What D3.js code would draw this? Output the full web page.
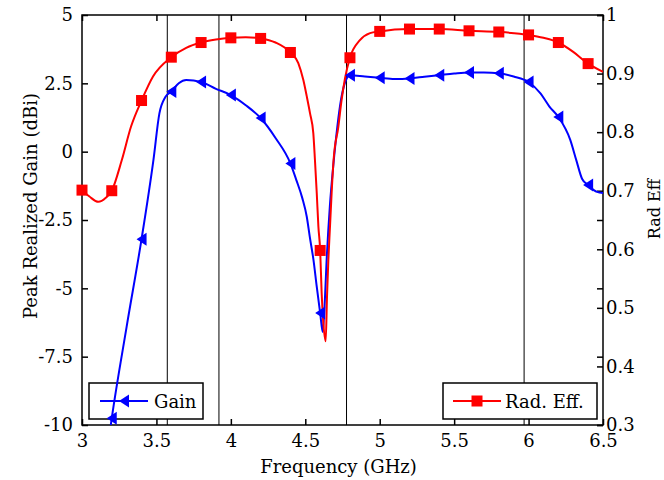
<!DOCTYPE html>
<html>
<head>
<meta charset="utf-8">
<script src="https://cdn.jsdelivr.net/npm/d3@7"></script>
<style>
  html, body { margin: 0; padding: 0; background: #fff; }
  svg text { font-family: "DejaVu Serif", "Liberation Serif", "Times New Roman", serif !important; fill: #000; }
</style>
</head>
<body>
<svg id="chart" width="664" height="480"></svg>
<script>
// ---------------- DATA ----------------
const xTicks = [3, 3.5, 4, 4.5, 5, 5.5, 6, 6.5];
const xTickLabels = ["3", "3.5", "4", "4.5", "5", "5.5", "6", "6.5"];
const gainTicks = [-10, -7.5, -5, -2.5, 0, 2.5, 5];
const gainTickLabels = ["-10", "-7.5", "-5", "-2.5", "0", "2.5", "5"];
const effTicks = [0.3, 0.4, 0.5, 0.6, 0.7, 0.8, 0.9, 1];
const effTickLabels = ["0.3", "0.4", "0.5", "0.6", "0.7", "0.8", "0.9", "1"];

// reference vertical lines (GHz)
const refLines = [3.573, 3.92, 4.777, 5.97];

// Peak realized gain (dBi)
const gainFreq = [3.1, 3.2, 3.3, 3.4, 3.48, 3.52, 3.56, 3.6, 3.65, 3.7, 3.8, 3.9, 4.0, 4.1, 4.2, 4.3, 4.4,
  4.44, 4.48, 4.51, 4.53, 4.555, 4.577, 4.6, 4.617, 4.628, 4.645, 4.665, 4.69, 4.715, 4.74, 4.765, 4.8,
  4.9, 5.0, 5.1, 5.2, 5.3, 5.4, 5.5, 5.6, 5.7, 5.8, 5.9, 6.0, 6.08, 6.14, 6.2, 6.28, 6.32, 6.36, 6.4, 6.46, 6.5];
const gainVals = [-14, -9.75, -6.4, -3.2, -0.3, 1.4, 2.0, 2.2, 2.5, 2.62, 2.55, 2.3, 2.07, 1.7, 1.23, 0.5, -0.43,
  -1.04, -1.7, -2.38, -3.11, -3.96, -4.94, -5.9, -6.6, -5.8, -3.8, -2.0, -0.4, 0.9, 1.9, 2.5, 2.8,
  2.75, 2.7, 2.66, 2.68, 2.74, 2.8, 2.86, 2.9, 2.9, 2.87, 2.75, 2.55, 2.13, 1.65, 1.27, 0.43, -0.3, -1.0, -1.22, -1.47, -1.51];
const gainMarkerFreq = [3.2, 3.4, 3.6, 3.8, 4.0, 4.2, 4.4, 4.6, 4.8, 5.0, 5.2, 5.4, 5.6, 5.8, 6.0, 6.2, 6.4];

// Radiation efficiency
const effFreq = [3.0, 3.05, 3.11, 3.16, 3.2, 3.267, 3.33, 3.4, 3.477, 3.6, 3.7, 3.8, 3.9, 4.0, 4.1, 4.2, 4.3, 4.4,
  4.453, 4.487, 4.51, 4.532, 4.554, 4.565, 4.577, 4.588, 4.6, 4.61, 4.62, 4.637, 4.646, 4.655, 4.666, 4.677, 4.69,
  4.722, 4.744, 4.767, 4.8, 4.867, 4.935, 5.0, 5.2, 5.4, 5.6, 5.8, 6.0, 6.1, 6.2, 6.3, 6.4, 6.5];
const effVals = [0.701, 0.69, 0.681, 0.688, 0.70, 0.752, 0.81, 0.854, 0.895, 0.928, 0.944, 0.953, 0.958, 0.961, 0.962, 0.960, 0.953, 0.936,
  0.918, 0.889, 0.861, 0.832, 0.798, 0.752, 0.696, 0.639, 0.598, 0.525, 0.479, 0.443, 0.52, 0.582, 0.639, 0.696, 0.752,
  0.809, 0.855, 0.892, 0.927, 0.957, 0.969, 0.972, 0.976, 0.976, 0.973, 0.971, 0.966, 0.961, 0.953, 0.937, 0.917, 0.903];
const effMarkerFreq = [3.0, 3.2, 3.4, 3.6, 3.8, 4.0, 4.2, 4.4, 4.6, 4.8, 5.0, 5.2, 5.4, 5.6, 5.8, 6.0, 6.2, 6.4];

const legendGain = "Gain";
const legendEff = "Rad. Eff.";
const xLabel = "Frequency (GHz)";
const yLeftLabel = "Peak Realized Gain (dBi)";
const yRightLabel = "Rad Eff";

// ---------------- LAYOUT ----------------
const L = 82, R = 603, T = 15, B = 425;
const FONT = 18;
const FAMILY = "'DejaVu Serif', 'Liberation Serif', 'Times New Roman', serif";
const BLUE = "#0000ff", RED = "#ff0000";

const svg = d3.select("#chart").style("font-family", FAMILY);
const x = d3.scaleLinear().domain([3, 6.5]).range([L, R]);
const yL = d3.scaleLinear().domain([-10, 5]).range([B, T]);
const yR = d3.scaleLinear().domain([0.3, 1]).range([B, T]);

svg.append("defs").append("clipPath").attr("id", "plotclip")
  .append("rect").attr("x", L).attr("y", T).attr("width", R - L).attr("height", B - T);

// vertical reference lines
svg.append("g").selectAll("line").data(refLines).join("line")
  .attr("x1", d => x(d)).attr("x2", d => x(d))
  .attr("y1", T).attr("y2", B)
  .attr("stroke", "#000").attr("stroke-width", 1);

// axes
function styleAxis(g) {
  g.attr("font-family", null).attr("font-size", null);
  g.select(".domain").remove();
  g.selectAll(".tick line").attr("stroke", "#000").attr("stroke-width", 1.5);
  g.selectAll(".tick text").style("font-size", FONT + "px").style("font-family", FAMILY);
}
const fmt = (ticks, labels) => d => labels[ticks.indexOf(d)];

svg.append("g").attr("transform", `translate(0,${B})`)
  .call(d3.axisBottom(x).tickValues(xTicks).tickFormat(fmt(xTicks, xTickLabels)).tickSizeInner(-6).tickSizeOuter(0).tickPadding(9))
  .call(styleAxis);
svg.append("g").attr("transform", `translate(0,${T})`)
  .call(d3.axisTop(x).tickValues(xTicks).tickFormat("").tickSizeInner(-6).tickSizeOuter(0))
  .call(styleAxis);
svg.append("g").attr("transform", `translate(${L},0)`)
  .call(d3.axisLeft(yL).tickValues(gainTicks).tickFormat(fmt(gainTicks, gainTickLabels)).tickSizeInner(-6).tickSizeOuter(0).tickPadding(9))
  .call(styleAxis);
svg.append("g").attr("transform", `translate(${R},0)`)
  .call(d3.axisRight(yL).tickValues(gainTicks).tickFormat("").tickSizeInner(-6).tickSizeOuter(0))
  .call(styleAxis);
svg.append("g").attr("transform", `translate(${R},0)`)
  .call(d3.axisRight(yR).tickValues(effTicks).tickFormat(fmt(effTicks, effTickLabels)).tickSizeInner(-6).tickSizeOuter(0).tickPadding(3))
  .call(styleAxis);

// box
svg.append("rect").attr("x", L).attr("y", T).attr("width", R - L).attr("height", B - T)
  .attr("fill", "none").attr("stroke", "#000").attr("stroke-width", 1.5);

// axis labels
function label(sel, size) { return sel.style("font-size", (size || FONT) + "px").style("font-family", FAMILY); }
svg.append("text").attr("x", (L + R) / 2 - 4).attr("y", 473).attr("text-anchor", "middle")
  .call(label).text(xLabel);
svg.append("text").attr("transform", `translate(37,206) rotate(-90)`).attr("text-anchor", "middle")
  .call(label).text(yLeftLabel);
svg.append("text").attr("transform", `translate(660,209) rotate(-90)`).attr("text-anchor", "middle")
  .call(label, 16).text(yRightLabel);

// marker shapes
const triPath = "M-5,0L5,-6.5L5,6.5Z";
const sq = 11;

// legends
function legend(x0, x1, y0, y1, lineX0, lineX1, color, kind, text, textX) {
  const g = svg.append("g");
  g.append("rect").attr("x", x0).attr("y", y0).attr("width", x1 - x0).attr("height", y1 - y0)
    .attr("fill", "#fff").attr("stroke", "#000").attr("stroke-width", 1.5);
  const ly = (y0 + y1) / 2;
  g.append("line").attr("x1", lineX0).attr("x2", lineX1).attr("y1", ly).attr("y2", ly)
    .attr("stroke", color).attr("stroke-width", 2);
  const mx = (lineX0 + lineX1) / 2;
  if (kind === "tri") {
    g.append("path").attr("d", triPath).attr("transform", `translate(${mx},${ly})`).attr("fill", color);
  } else {
    g.append("rect").attr("x", mx - sq / 2).attr("y", ly - sq / 2).attr("width", sq).attr("height", sq).attr("fill", color);
  }
  g.append("text").attr("x", textX).attr("y", ly + 7).call(label).text(text);
}
legend(89, 203, 383, 419, 100, 148, BLUE, "tri", legendGain, 154);
legend(443, 597, 383, 419, 453, 501, RED, "sq", legendEff, 505);

// data lines
const plot = svg.append("g").attr("clip-path", "url(#plotclip)");
const gainData = gainFreq.map((f, i) => ({ f, v: gainVals[i] }));
const effData = effFreq.map((f, i) => ({ f, v: effVals[i] }));

plot.append("path").datum(gainData)
  .attr("d", d3.line().x(d => x(d.f)).y(d => yL(d.v)).curve(d3.curveMonotoneX))
  .attr("fill", "none").attr("stroke", BLUE).attr("stroke-width", 2);
plot.append("path").datum(effData)
  .attr("d", d3.line().x(d => x(d.f)).y(d => yR(d.v)).curve(d3.curveMonotoneX))
  .attr("fill", "none").attr("stroke", RED).attr("stroke-width", 2);

const gainMarkers = gainData.filter(d => gainMarkerFreq.some(m => Math.abs(m - d.f) < 1e-6));
const effMarkers = effData.filter(d => effMarkerFreq.some(m => Math.abs(m - d.f) < 1e-6));

svg.append("g").selectAll("path").data(gainMarkers).join("path")
  .attr("d", triPath).attr("transform", d => `translate(${x(d.f)},${yL(d.v)})`).attr("fill", BLUE);
svg.append("g").selectAll("rect").data(effMarkers).join("rect")
  .attr("x", d => x(d.f) - sq / 2).attr("y", d => yR(d.v) - sq / 2)
  .attr("width", sq).attr("height", sq).attr("fill", RED);
</script>
</body>
</html>
